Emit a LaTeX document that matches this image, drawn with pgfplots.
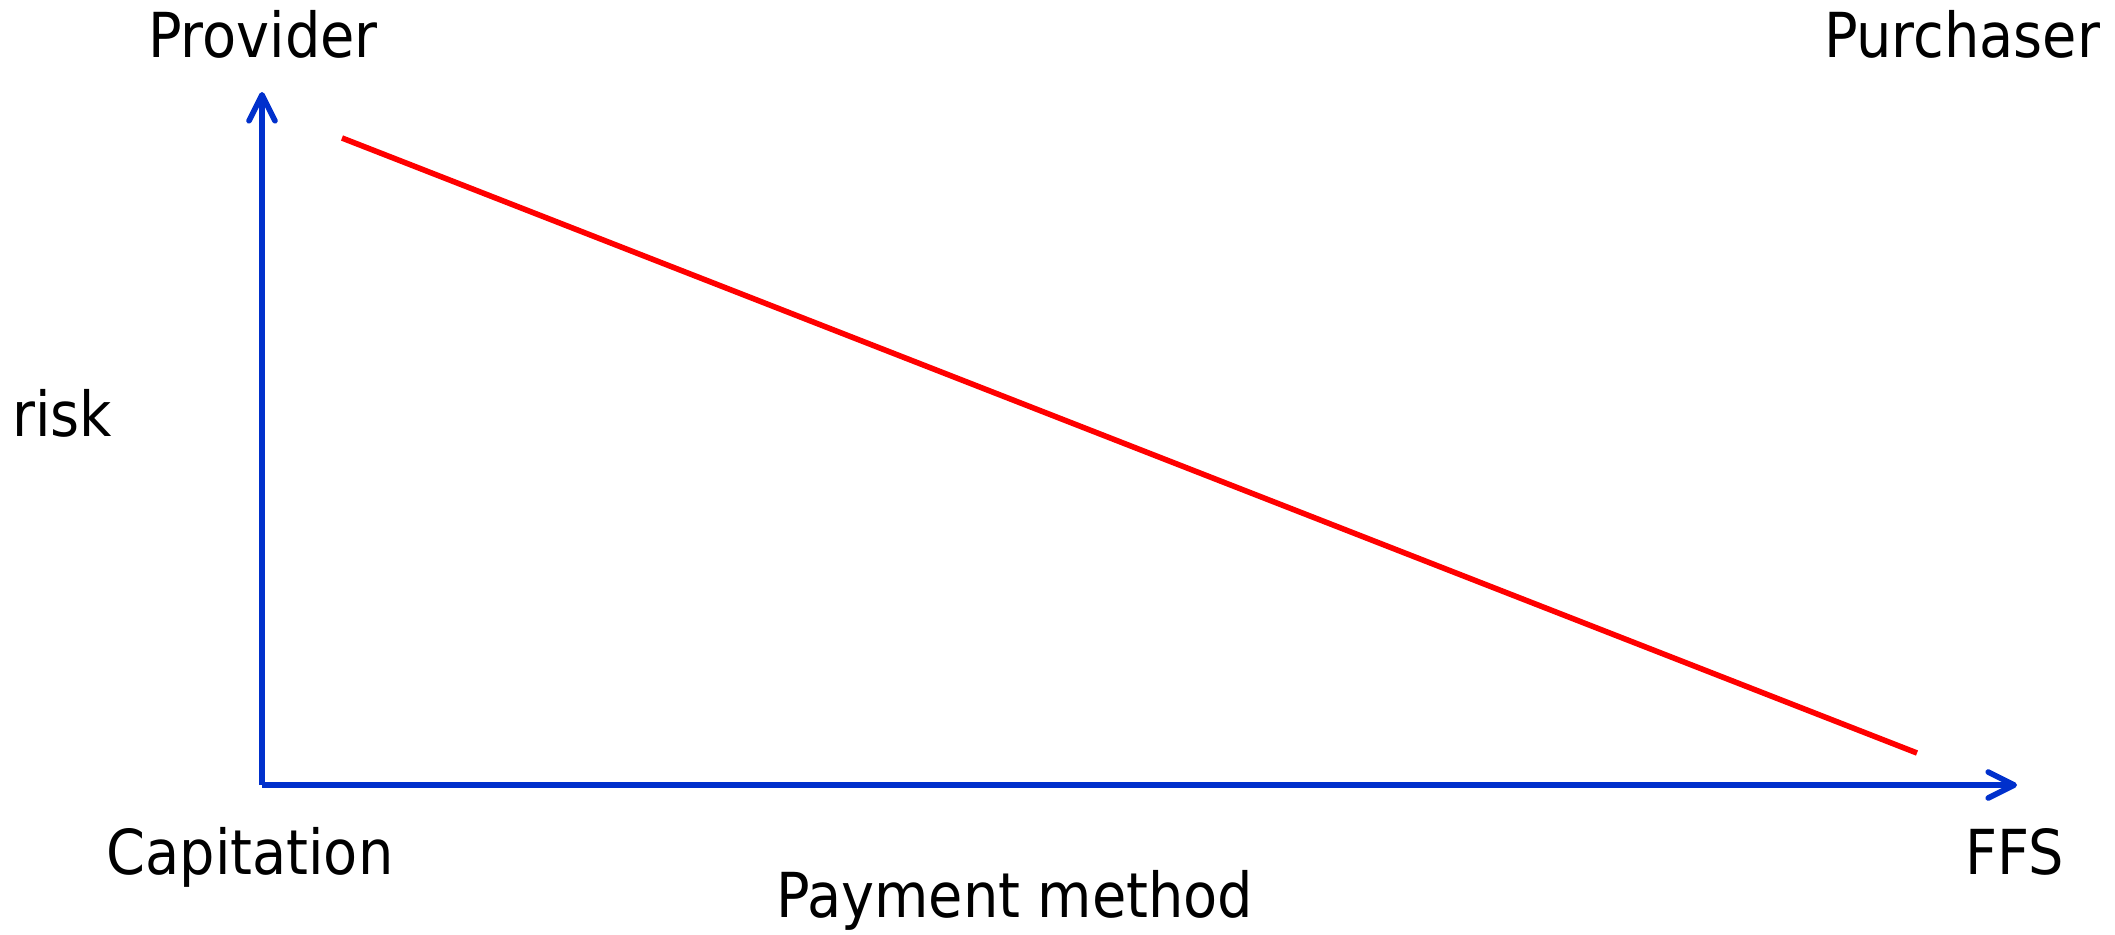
\documentclass[border=0pt]{standalone}
\usepackage{pgfplots}
\pgfplotsset{compat=1.18}
\usepackage{fontspec}
\setmainfont{DejaVu Sans Condensed}
\usetikzlibrary{arrows.meta}
\definecolor{axblue}{RGB}{0,48,204}
\definecolor{lnred}{RGB}{255,0,0}
\begin{document}
\begin{tikzpicture}
\begin{axis}[
  x=0.5pt, y=0.5pt,
  xmin=262, xmax=2017, ymin=149, ymax=842,
  axis lines=left,
  xtick=\empty, ytick=\empty,
  clip=false,
  axis line style={axblue, line width=2.8pt, -{Straight Barb[length=13pt, width=13pt, round]}},
]
\path (axis cs:0,0) rectangle (axis cs:2115,934);
\addplot[lnred, line width=2.8pt] coordinates {(342,796) (1917,181)};
\begin{scope}[every node/.style={inner sep=0pt, outer sep=0pt}, font=\fontsize{31}{37}\selectfont]
\node[anchor=base] at (axis cs:263,877) {Provider};
\node[anchor=base east] at (axis cs:2100,877) {Purchaser};
\node[anchor=base] at (axis cs:62,498) {risk};
\node[anchor=base] at (axis cs:250,60) {Capitation};
\node[anchor=base] at (axis cs:2015,60) {FFS};
\node[anchor=base] at (axis cs:1015,17) {Payment method};
\end{scope}
\end{axis}
\end{tikzpicture}
\end{document}
